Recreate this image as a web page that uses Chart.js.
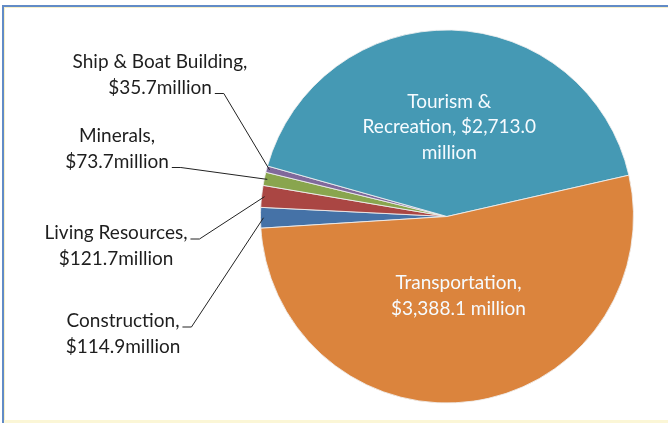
<!DOCTYPE html>
<html>
<head>
<meta charset="utf-8">
<script src="https://cdn.jsdelivr.net/npm/chart.js@4.4.0/dist/chart.umd.min.js"></script>
<style>
  html, body { margin: 0; padding: 0; background: #fff; }
  #wrap { position: relative; width: 668px; height: 424px; overflow: hidden; }
  #frame {
    position: absolute; left: 2px; top: 5px; width: 700px; height: 416px;
    border-left: 2px solid #628bc6; border-top: 2px solid #628bc6;
    box-shadow: inset 1px 1px 0 #f7efc8;
  }
  #bottomLine { position: absolute; left: 4px; right: 0; top: 420px; height: 3px; background: #fbf6d6; }
  #pie { position: absolute; left: 0; top: 0; }
</style>
</head>
<body>
<div id="wrap">
  <div id="frame"></div>
  <div id="bottomLine"></div>
  <canvas id="pie" width="668" height="424"></canvas>
</div>
<script>
const categories = ['Construction', 'Living Resources', 'Minerals', 'Ship & Boat Building', 'Tourism & Recreation', 'Transportation'];
const values = [114.9, 121.7, 73.7, 35.7, 2713.0, 3388.1];
const labelLines = [
    ['Construction,', '$114.9million'],
    ['Living Resources,', '$121.7million'],
    ['Minerals,', '$73.7million'],
    ['Ship & Boat Building,', '$35.7million'],
    ['Tourism &', 'Recreation, $2,713.0', 'million'],
    ['Transportation,', '$3,388.1 million']
];
const colors = ['#4572a7', '#aa4643', '#89a54e', '#80699b', '#4599b4', '#db843d'];

// where the text sits: outside labels get a fixed spot + leader line,
// inside labels follow the slice
const labelLayout = [
    {x: 123, y: 327, tick: 0},
    {x: 116, y: 239, tick: 0},
    {x: 117, y: 142, tick: 1},
    {x: 160, y: 68, tick: 1},
    {inside: 0.48},
    {inside: 0.43}
];

const FONT = '19px Lato';
const LINE_H = 25.5;

const sliceLabels = {
    id: 'sliceLabels',
    afterDatasetsDraw(chart) {
        const ctx = chart.ctx;
        const arcs = chart.getDatasetMeta(0).data;
        ctx.save();
        ctx.font = FONT;
        ctx.textAlign = 'center';
        arcs.forEach((arc, i) => {
            const lay = labelLayout[i];
            const lines = labelLines[i];
            const mid = (arc.startAngle + arc.endAngle) / 2;
            if (lay.inside) {
                const r = arc.outerRadius * lay.inside;
                const cx = arc.x + Math.cos(mid) * r;
                const cy = arc.y + Math.sin(mid) * r;
                ctx.fillStyle = '#f6fbff';
                ctx.textBaseline = 'middle';
                const top = cy - (lines.length - 1) * LINE_H / 2;
                lines.forEach((t, k) => ctx.fillText(t, cx, top + k * LINE_H));
                return;
            }
            ctx.fillStyle = '#1e1e1e';
            ctx.textBaseline = 'alphabetic';
            lines.forEach((t, k) => ctx.fillText(t, lay.x, lay.y + k * LINE_H));
            // leader line
            const w = ctx.measureText(lines[lay.tick]).width;
            const tx = lay.x + w / 2 + 3;
            const ty = lay.y + lay.tick * LINE_H;
            const ex = arc.x + Math.cos(mid) * (arc.outerRadius - 3);
            const ey = arc.y + Math.sin(mid) * (arc.outerRadius - 3);
            ctx.strokeStyle = '#222';
            ctx.lineWidth = 1;
            ctx.beginPath();
            ctx.moveTo(tx, ty);
            ctx.lineTo(tx + 9, ty);
            ctx.lineTo(ex, ey);
            ctx.stroke();
        });
        ctx.restore();
    }
};

new Chart(document.getElementById('pie'), {
    type: 'pie',
    data: {
        labels: categories,
        datasets: [{
            data: values,
            backgroundColor: colors,
            borderColor: 'rgba(240,240,240,0.85)',
            borderWidth: 1,
            hoverOffset: 0
        }]
    },
    options: {
        responsive: false,
        animation: false,
        rotation: 266.4,
        layout: {
            padding: {left: 260, right: 34, top: 29, bottom: 20}
        },
        plugins: {
            legend: {display: false},
            tooltip: {enabled: false}
        }
    },
    plugins: [sliceLabels]
});
</script>
</body>
</html>
